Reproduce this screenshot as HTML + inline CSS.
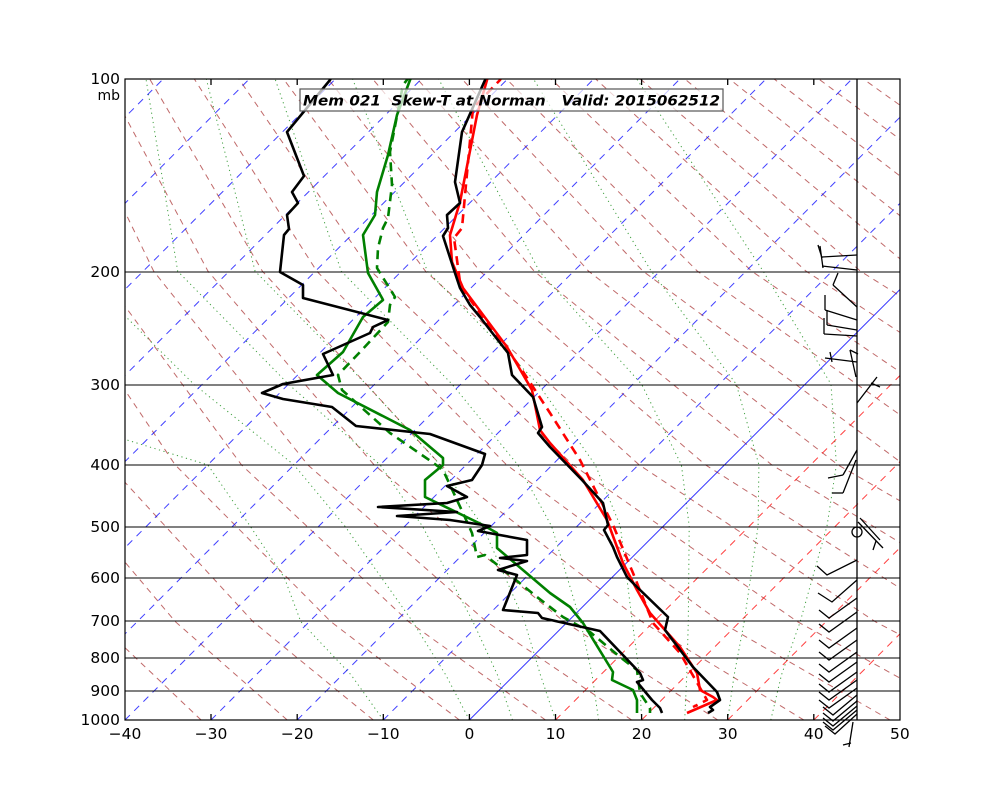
<!DOCTYPE html>
<html><head><meta charset="utf-8"><style>
body{margin:0;background:#fff;}
svg{display:block;font-family:"DejaVu Sans","Liberation Sans",sans-serif;}
</style></head><body>
<svg width="1000" height="800" viewBox="0 0 1000 800" xmlns="http://www.w3.org/2000/svg">
<defs><clipPath id="c"><rect x="125" y="79" width="775" height="641"/></clipPath></defs>
<rect width="1000" height="800" fill="#fff"/>
<g clip-path="url(#c)" fill="none">
<g stroke="#a52a2a" stroke-width="1" stroke-dasharray="6,5" stroke-opacity="0.7">
<polyline points="201.1,720 97.6,621.7 -23.6,464.9 -118.2,271.2 -162.5,79"/>
<polyline points="287.2,720 175.4,621.7 42.7,464.9 -63.8,271.2 -117.9,79"/>
<polyline points="373.3,720 253.1,621.7 109.0,464.9 -9.5,271.2 -73.3,79"/>
<polyline points="459.4,720 330.9,621.7 175.2,464.9 44.9,271.2 -28.7,79"/>
<polyline points="545.5,720 408.7,621.7 241.5,464.9 99.3,271.2 15.9,79"/>
<polyline points="631.7,720 486.5,621.7 307.8,464.9 153.7,271.2 60.5,79"/>
<polyline points="717.8,720 564.2,621.7 374.1,464.9 208.0,271.2 105.1,79"/>
<polyline points="803.9,720 642.0,621.7 440.4,464.9 262.4,271.2 149.7,79"/>
<polyline points="890.0,720 719.8,621.7 506.6,464.9 316.8,271.2 194.3,79"/>
<polyline points="976.1,720 797.5,621.7 572.9,464.9 371.1,271.2 238.9,79"/>
<polyline points="1062.2,720 875.3,621.7 639.2,464.9 425.5,271.2 283.5,79"/>
<polyline points="1148.3,720 953.1,621.7 705.5,464.9 479.9,271.2 328.1,79"/>
<polyline points="1234.4,720 1030.8,621.7 771.8,464.9 534.2,271.2 372.7,79"/>
<polyline points="1320.5,720 1108.6,621.7 838.0,464.9 588.6,271.2 417.3,79"/>
<polyline points="1406.6,720 1186.4,621.7 904.3,464.9 643.0,271.2 461.9,79"/>
<polyline points="1492.8,720 1264.2,621.7 970.6,464.9 697.4,271.2 506.5,79"/>
<polyline points="1578.9,720 1341.9,621.7 1036.9,464.9 751.7,271.2 551.1,79"/>
<polyline points="1665.0,720 1419.7,621.7 1103.2,464.9 806.1,271.2 595.7,79"/>
<polyline points="1751.1,720 1497.5,621.7 1169.4,464.9 860.5,271.2 640.3,79"/>
<polyline points="1837.2,720 1575.2,621.7 1235.7,464.9 914.8,271.2 684.9,79"/>
<polyline points="1923.3,720 1653.0,621.7 1302.0,464.9 969.2,271.2 729.5,79"/>
<polyline points="2009.4,720 1730.8,621.7 1368.3,464.9 1023.6,271.2 774.1,79"/>
<polyline points="2095.5,720 1808.5,621.7 1434.6,464.9 1077.9,271.2 818.7,79"/>
<polyline points="2181.6,720 1886.3,621.7 1500.8,464.9 1132.3,271.2 863.3,79"/>
<polyline points="2267.7,720 1964.1,621.7 1567.1,464.9 1186.7,271.2 907.9,79"/>
</g>
<g stroke="#008000" stroke-width="1" stroke-dasharray="1.2,3.5" stroke-opacity="0.75">
<polyline points="770.8,720 781.5,674.8 800.2,621.7 827,526 836.4,464.9 831.0,384.2 763.2,271.2 636.8,79"/>
<polyline points="727.7,720 734.2,674.8 744.2,621.7 758.1,526 758.9,464.9 736.3,384.2 651.3,271.2 533.5,79"/>
<polyline points="684.7,720 686.8,674.8 688.3,621.7 689.2,526 681.4,464.9 641.6,384.2 539.3,271.2 438.7,79"/>
<polyline points="641.6,720 639.5,674.8 632.3,621.7 620.3,526 595.3,464.9 538.3,384.2 427.4,271.2 352.6,79"/>
<polyline points="598.6,720 592.1,674.8 580.6,621.7 551.5,526 517.8,464.9 452.1,384.2 341.3,271.2 275.1,79"/>
<polyline points="555.5,720 540.4,674.8 524.6,621.7 482.6,526 440.3,464.9 366.0,384.2 255.1,271.2 206.3,79"/>
<polyline points="512.5,720 497.4,674.8 473.0,621.7 422.3,526 380.1,464.9 288.5,384.2 177.7,271.2 146,79"/>
<polyline points="469.4,720 445.7,674.8 412.7,621.7 344.8,526 294.0,464.9 193.8,384.2 80,271.2"/>
<polyline points="383.3,720 351,674.8 300.8,621.7 284.4,577.8 250.1,526 207.8,464.9 127,440 60,400"/>
</g>
<g stroke="#0000ff" stroke-width="1" stroke-dasharray="7,6" stroke-opacity="0.75">
<line x1="-477.8" y1="720" x2="163.2" y2="79"/><line x1="-391.7" y1="720" x2="249.3" y2="79"/>
<line x1="-305.6" y1="720" x2="335.4" y2="79"/><line x1="-219.6" y1="720" x2="421.4" y2="79"/>
<line x1="-133.4" y1="720" x2="507.6" y2="79"/><line x1="-47.3" y1="720" x2="593.7" y2="79"/>
<line x1="38.9" y1="720" x2="679.9" y2="79"/><line x1="125.0" y1="720" x2="766.0" y2="79"/>
<line x1="211.0" y1="720" x2="852.0" y2="79"/><line x1="297.2" y1="720" x2="938.2" y2="79"/>
<line x1="383.3" y1="720" x2="1024.3" y2="79"/>
</g>
<line x1="469.4" y1="720" x2="1110.4" y2="79" stroke="#0000ff" stroke-width="1" stroke-opacity="0.8"/>
<g stroke="#ff0000" stroke-width="1" stroke-dasharray="7,6" stroke-opacity="0.75">
<line x1="555.5" y1="720" x2="1196.5" y2="79"/><line x1="641.6" y1="720" x2="1282.6" y2="79"/>
<line x1="727.7" y1="720" x2="1368.7" y2="79"/><line x1="813.8" y1="720" x2="1454.8" y2="79"/>
<line x1="899.9" y1="720" x2="1540.9" y2="79"/>
</g>
</g>
<g stroke="#000" stroke-width="1">
<line x1="125" y1="272" x2="900" y2="272"/><line x1="125" y1="385" x2="900" y2="385"/>
<line x1="125" y1="465" x2="900" y2="465"/><line x1="125" y1="527" x2="900" y2="527"/>
<line x1="125" y1="578" x2="900" y2="578"/><line x1="125" y1="621" x2="900" y2="621"/>
<line x1="125" y1="658" x2="900" y2="658"/><line x1="125" y1="691" x2="900" y2="691"/>
</g>
<g fill="none" stroke-width="2.6" stroke-linejoin="round" clip-path="url(#c)">
<polyline stroke="#008000" stroke-dasharray="9,6" points="410,76 403,85 390,152 392,185 388,218 383,228 378,248 377,268 395,297 390,305 388,322 360,352 338,375 342,390 390,433 432,462 443,470 463,513 472,533 477,557 485,555 537,597 563,617 590,632 620,657 637,670 640,693 650,708 650,713"/>
<polyline stroke="#008000" points="412,76 410,80 397,115 388,155 377,192 375,215 363,235 368,273 382,298 383,300 363,317 343,352 317,375 338,393 410,430 443,458 443,465 425,480 425,497 483,525 497,533 497,548 550,593 570,607 583,623 613,672 612,680 633,690 637,700 637,713"/>
<polyline stroke="#ff0000" stroke-dasharray="9,6" points="502,76 500,80 473,108 462,228 454,238 460,282 463,290 520,367 550,413 580,460 613,525 633,573 653,623 680,653 707,700 693,707"/>
<polyline stroke="#ff0000" points="488,76 487,80 477,115 460,202 450,235 452,262 463,288 507,347 532,390 540,430 550,443 583,480 607,520 623,563 637,590 650,613 680,647 697,673 700,690 713,697 717,700 687,713"/>
<polyline stroke="#000" points="486,76 485,80 462,132 455,182 460,203 447,215 448,228 443,236 455,273 460,288 470,305 480,317 490,330 508,353 512,375 533,397 542,427 538,433 550,447 582,480 603,503 608,525 604,530 613,547 617,557 627,577 637,587 668,617 665,630 693,667 717,692 720,700 710,707 713,710 708,713"/>
<polyline stroke="#000" points="332,76 330,80 287,132 304,176 292,192 298,203 287,215 289,229 284,235 280,272 303,285 303,298 388,320 373,327 370,333 323,354 333,375 283,384 262,393 283,399 332,407 356,426 430,434 485,454 482,465 472,480 447,486 467,497 447,503 378,507 457,512 397,516 450,520 490,526 478,531 527,540 527,555 500,558 527,561 498,570 517,575 503,610 538,613 542,618 600,631 640,673 643,680 637,682 652,700 660,708 662,713"/>
</g>
<g stroke="#000" stroke-width="1.3" fill="none">
<line x1="857" y1="79" x2="857" y2="720"/>
<line x1="857" y1="255" x2="822" y2="257"/><line x1="820" y1="246" x2="823" y2="268"/>
<line x1="857" y1="270" x2="822" y2="266"/><line x1="818" y1="245" x2="822" y2="258"/>
<line x1="857" y1="307" x2="833" y2="285"/><line x1="833" y1="285" x2="838" y2="273"/>
<line x1="857" y1="320" x2="825" y2="310"/><line x1="825" y1="310" x2="825" y2="295"/>
<line x1="857" y1="330" x2="827" y2="325"/><line x1="827" y1="325" x2="827" y2="310"/>
<line x1="857" y1="336" x2="824" y2="334"/><line x1="824" y1="334" x2="824" y2="318"/>
<line x1="857" y1="362" x2="825" y2="358"/><line x1="830" y1="352" x2="832" y2="362"/>
<line x1="856" y1="377" x2="850" y2="350"/><line x1="850" y1="350" x2="858" y2="354"/>
<line x1="857" y1="403" x2="877" y2="377"/><line x1="871" y1="383" x2="880" y2="387"/>
<line x1="857" y1="450" x2="843" y2="475"/><line x1="843" y1="475" x2="828" y2="478"/>
<line x1="856" y1="460" x2="843" y2="493"/><line x1="843" y1="493" x2="832" y2="493"/>
<circle cx="857" cy="532" r="5"/>
<line x1="858" y1="522" x2="883" y2="548"/><line x1="860" y1="518" x2="880" y2="540"/>
<line x1="876" y1="541" x2="873" y2="550"/>
<polyline points="857,560 827,575 817,566"/>
<polyline points="857,580 832,602 818,593"/>
<polyline points="857,598 829,618 819,610"/>
<polyline points="857,612 829,632 819,624"/>
<polyline points="857,628 829,648 819,640"/>
<polyline points="857,640 829,660 819,652"/>
<polyline points="857,652 829,672 819,664"/>
<polyline points="857,662 829,682 819,674"/>
<polyline points="857,672 829,692 819,684"/>
<polyline points="857,680 829,700 819,692"/>
<polyline points="857,688 829,708 819,700"/>
<polyline points="857,695 833,715 823,707"/>
<polyline points="857,701 833,721 823,713"/>
<polyline points="857,706 833,726 823,718"/>
<polyline points="857,710 833,730 823,722"/>
<polyline points="857,714 835,734 825,726"/>
<line x1="853" y1="722" x2="849" y2="747"/><line x1="843" y1="745" x2="851" y2="743"/>
<line x1="211" y1="720" x2="211" y2="714"/><line x1="297.2" y1="720" x2="297.2" y2="714"/>
<line x1="383.3" y1="720" x2="383.3" y2="714"/><line x1="469.4" y1="720" x2="469.4" y2="714"/>
<line x1="555.5" y1="720" x2="555.5" y2="714"/><line x1="641.6" y1="720" x2="641.6" y2="714"/>
<line x1="727.7" y1="720" x2="727.7" y2="714"/><line x1="813.8" y1="720" x2="813.8" y2="714"/>
<line x1="211" y1="79" x2="211" y2="85"/><line x1="297.2" y1="79" x2="297.2" y2="85"/>
<line x1="383.3" y1="79" x2="383.3" y2="85"/><line x1="469.4" y1="79" x2="469.4" y2="85"/>
<line x1="555.5" y1="79" x2="555.5" y2="85"/><line x1="641.6" y1="79" x2="641.6" y2="85"/>
<line x1="727.7" y1="79" x2="727.7" y2="85"/><line x1="813.8" y1="79" x2="813.8" y2="85"/>
</g>
<rect x="125" y="79" width="775" height="641" fill="none" stroke="#000" stroke-width="1.2"/>
<g font-size="15.5" fill="#000" text-anchor="end">
<text x="120" y="84">100</text><text x="120" y="100" font-size="14">mb</text>
<text x="120" y="277">200</text><text x="120" y="390">300</text><text x="120" y="470">400</text>
<text x="120" y="532">500</text><text x="120" y="583">600</text><text x="120" y="626">700</text>
<text x="120" y="663">800</text><text x="120" y="696">900</text><text x="120" y="725">1000</text>
</g>
<g font-size="15.5" fill="#000" text-anchor="middle">
<text x="125" y="739">−40</text><text x="211" y="739">−30</text><text x="297.2" y="739">−20</text>
<text x="383.3" y="739">−10</text><text x="469.4" y="739">0</text><text x="555.5" y="739">10</text>
<text x="641.6" y="739">20</text><text x="727.7" y="739">30</text><text x="813.8" y="739">40</text>
<text x="899.9" y="739">50</text>
</g>
<rect x="300" y="89" width="423" height="22" fill="#fff" fill-opacity="0.7" stroke="#555" stroke-width="1.2"/>
<text x="303" y="105.5" font-size="14" font-weight="bold" font-style="italic" textLength="417" lengthAdjust="spacingAndGlyphs" style="white-space:pre" xml:space="preserve">Mem 021  Skew-T at Norman   Valid: 2015062512</text>
</svg>
</body></html>
